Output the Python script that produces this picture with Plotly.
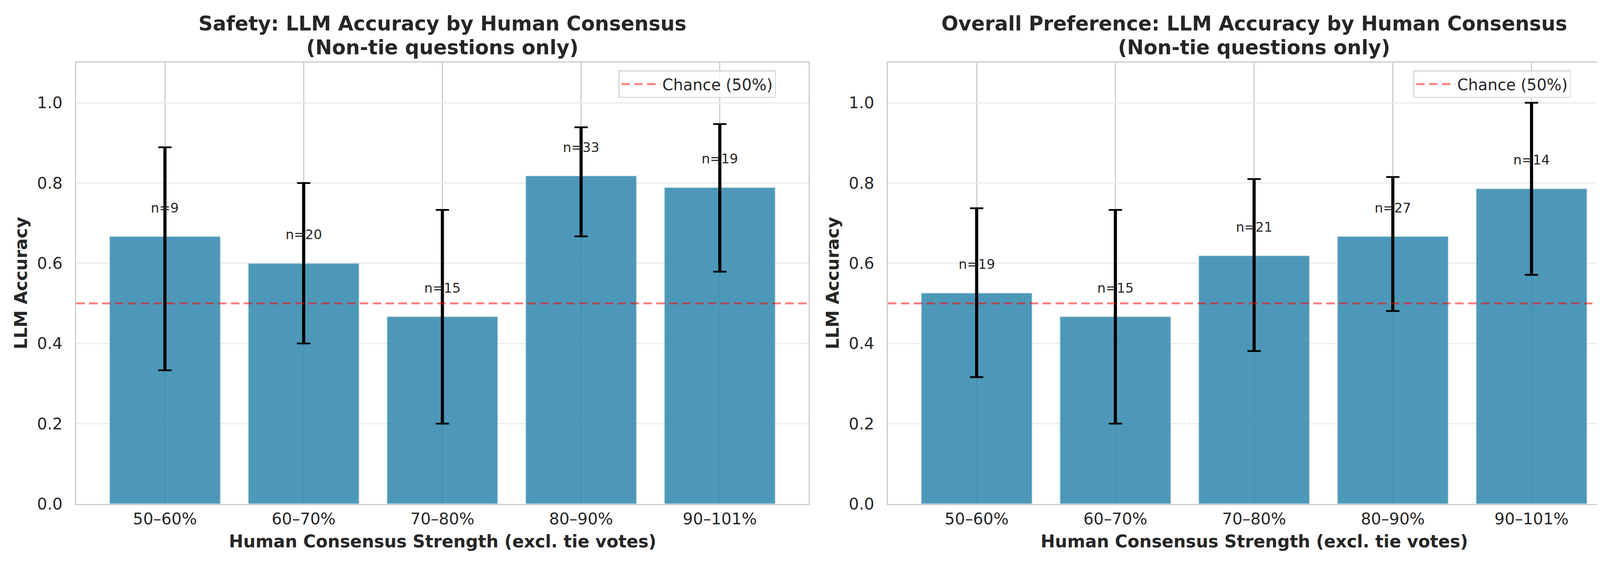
import plotly.graph_objects as go

# ---- data ----
categories = ["50–60%", "60–70%", "70–80%", "80–90%", "90–101%"]

safety_acc = [0.667, 0.600, 0.467, 0.818, 0.789]
safety_lo = [0.333, 0.400, 0.200, 0.667, 0.579]
safety_hi = [0.889, 0.800, 0.733, 0.939, 0.947]
safety_n = [9, 20, 15, 33, 19]

overall_acc = [0.526, 0.467, 0.619, 0.667, 0.786]
overall_lo = [0.316, 0.200, 0.381, 0.481, 0.571]
overall_hi = [0.737, 0.733, 0.810, 0.815, 1.000]
overall_n = [19, 15, 21, 27, 14]

title_line1 = ["Safety: LLM Accuracy by Human Consensus",
               "Overall Preference: LLM Accuracy by Human Consensus"]
title_line2 = "(Non-tie questions only)"
xlabel = "Human Consensus Strength (excl. tie votes)"
ylabel = "LLM Accuracy"
chance = 0.5
chance_label = "Chance (50%)"
yticks = [0.0, 0.2, 0.4, 0.6, 0.8, 1.0]

# ---- layout geometry ----
W, H = 4169, 1464
FONT = "DejaVu Sans"
TXT = "#262626"
BAR = "rgba(46,134,171,0.85)"
CHANCE_COLOR = "rgba(255,0,0,0.5)"
ax_px = [(187, 2062), (2265, 4140)]
legend_left_px = [1575, 3610]
ytop, ybot = 155, 1303

fig = go.Figure()

panels = [
    (safety_acc, safety_lo, safety_hi, safety_n),
    (overall_acc, overall_lo, overall_hi, overall_n),
]

for i, (acc, lo, hi, n) in enumerate(panels):
    xa = "x" if i == 0 else "x2"
    ya = "y" if i == 0 else "y2"
    lg = "legend" if i == 0 else "legend2"
    plus = [h - a for h, a in zip(hi, acc)]
    minus = [a - l for a, l in zip(acc, lo)]
    fig.add_trace(go.Bar(
        x=categories, y=acc, xaxis=xa, yaxis=ya,
        marker=dict(color=BAR, line=dict(color="#d9e9f0", width=2)),
        width=0.8, showlegend=False,
        error_y=dict(type="data", array=plus, arrayminus=minus, symmetric=False,
                     color="black", thickness=8, width=0),
    ))
    fig.add_trace(go.Scatter(
        x=categories, y=acc, xaxis=xa, yaxis=ya, mode="markers",
        marker=dict(size=1, color="rgba(0,0,0,0)"), showlegend=False,
        error_y=dict(type="data", array=plus, arrayminus=minus, symmetric=False,
                     color="black", thickness=4.5, width=17),
    ))
    # legend-only entry for the chance line
    fig.add_trace(go.Scatter(
        x=[None], y=[None], xaxis=xa, yaxis=ya, mode="lines", name=chance_label,
        line=dict(color=CHANCE_COLOR, width=5, dash="22px,11px"),
        showlegend=True, legend=lg,
    ))
    for c, a, k in zip(categories, acc, n):
        fig.add_annotation(x=c, y=a + 0.05, xref=xa, yref=ya, text=f"n={k}",
                           showarrow=False, yanchor="bottom",
                           font=dict(family=FONT, size=34, color=TXT))
    fig.add_shape(type="line", xref=f"{xa} domain", yref=ya, x0=0, x1=1,
                  y0=chance, y1=chance, layer="above",
                  line=dict(color=CHANCE_COLOR, width=5, dash="22px,11px"))

    x0p, x1p = ax_px[i]
    dom = [x0p / W, x1p / W]
    axis_common = dict(showline=True, mirror=True, linecolor="#cccccc", linewidth=2.5,
                       zeroline=False, tickfont=dict(family=FONT, size=41, color=TXT))
    fig.update_layout(**{
        ("xaxis" if i == 0 else "xaxis2"): dict(
            domain=dom, anchor=ya, range=[-0.64, 4.64], type="category",
            categoryorder="array", categoryarray=categories,
            showgrid=True, gridcolor="#cccccc", gridwidth=3,
            ticks="", **axis_common),
        ("yaxis" if i == 0 else "yaxis2"): dict(
            domain=[1 - ybot / H, 1 - ytop / H], anchor=xa, range=[0, 1.1],
            tickvals=yticks, tickformat=".1f",
            showgrid=True, gridcolor="#ebebeb", gridwidth=3,
            ticks="outside", ticklen=24, tickcolor="rgba(0,0,0,0)", **axis_common),
    })

    cx = (x0p + x1p) / 2 / W
    for txt, yc in ((title_line1[i], 53), (title_line2, 115)):
        fig.add_annotation(x=cx, y=1 - yc / H, xref="paper", yref="paper",
                           text=f"<b>{txt}</b>", showarrow=False,
                           yanchor="middle", xanchor="center",
                           font=dict(family=FONT, size=51, color=TXT))
    fig.add_annotation(x=cx, y=1 - 1400 / H, xref="paper", yref="paper",
                       text=f"<b>{xlabel}</b>", showarrow=False,
                       yanchor="middle", xanchor="center",
                       font=dict(family=FONT, size=44, color=TXT))
    fig.add_annotation(x=(x0p - 142) / W, y=1 - 729 / H, xref="paper", yref="paper",
                       text=f"<b>{ylabel}</b>", showarrow=False, textangle=-90,
                       yanchor="middle", xanchor="center",
                       font=dict(family=FONT, size=44, color=TXT))

legend_common = dict(bgcolor="rgba(255,255,255,0.8)", bordercolor="#d4d4d4", borderwidth=2.5,
                     font=dict(family=FONT, size=40, color=TXT),
                     xanchor="left", yanchor="top", y=1 - 175 / H,
                     xref="paper", yref="paper", itemwidth=100)
fig.update_layout(
    width=W, height=H,
    margin=dict(l=0, r=0, t=0, b=0),
    paper_bgcolor="white", plot_bgcolor="white",
    bargap=0.2,
    legend=dict(x=legend_left_px[0] / W, **legend_common),
    legend2=dict(x=legend_left_px[1] / W, **legend_common),
    font=dict(family=FONT, color=TXT),
)

fig.write_html("out.html")
